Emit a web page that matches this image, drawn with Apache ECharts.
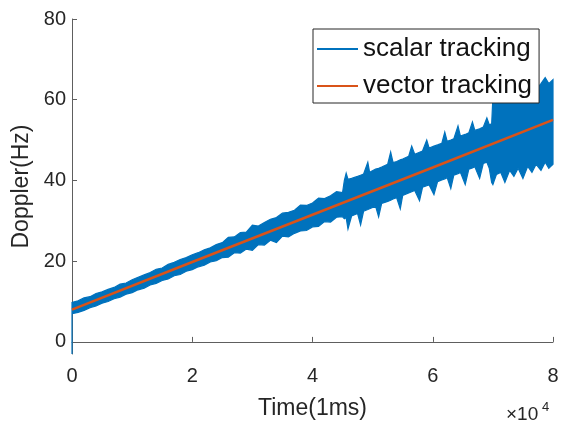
<!DOCTYPE html>
<html>
<head>
<meta charset="utf-8">
<script src="https://cdn.jsdelivr.net/npm/echarts@6/dist/echarts.min.js"></script>
<style>
html,body{margin:0;padding:0;background:#fff;}
#chart{width:562px;height:425px;}
</style>
</head>
<body>
<div id="chart"></div>
<script>
// ---- data (envelope of the noisy scalar-tracking trace) ----
const scalarTime = [0, 0, 1000, 2000, 3000, 4000, 5000, 6000, 7000, 8000, 9000, 10000,
  11000, 12000, 13000, 14000, 15000, 16000, 17000, 18000, 19000, 20000,
  21000, 22000, 23000, 24000, 25000, 26000, 27000, 28000, 29000, 30000,
  31000, 32000, 33000, 34000, 35000, 36000, 37000, 38000, 39000, 40000,
  41000, 42000, 43000, 44000, 45000,
  45300, 45600, 45900, 46500, 47500, 48000, 48500, 49200, 49500, 50500,
  51000, 51500, 52500, 53000, 53400, 54000, 54600, 55000, 56000, 56500,
  57000, 57800, 58300, 59000, 59400, 60200, 60800, 61500, 62000, 62400,
  63000, 63500, 64200, 64600, 65400, 66000, 66600, 67000, 67800, 68400,
  69000, 69400, 69800,
  70000, 70600, 71300, 72000, 72800, 73500, 74200, 75000, 75800, 76500,
  77200, 78000, 78700, 79300, 80000];
const scalarUpper = [9.6, 9.8, 10.2, 10.9, 11.2, 12.0, 12.4, 13.0, 13.5, 14.3, 14.6, 15.4,
  16.0, 16.6, 17.2, 18.0, 18.3, 19.2, 19.7, 20.4, 20.9, 21.6,
  22.1, 22.8, 23.3, 24.1, 24.6, 25.9, 26.0, 27.1, 27.2, 28.9,
  28.7, 29.6, 30.4, 30.8, 31.9, 32.1, 32.6, 33.9, 33.8, 34.4,
  35.6, 35.5, 36.2, 37.2, 37.0,
  40.0, 41.8, 40.3, 40.5, 41.0, 41.3, 41.6, 44.5, 42.0, 42.8,
  43.0, 43.3, 44.0, 47.0, 44.4, 44.7, 45.1, 45.3, 46.0, 48.5,
  46.5, 47.0, 47.3, 50.0, 48.0, 48.5, 48.8, 49.2, 52.0, 49.7,
  50.0, 50.3, 53.5, 51.0, 51.4, 51.8, 54.5, 52.4, 52.8, 53.2,
  55.5, 53.8, 54.0,
  60.5, 60.8, 62.5, 61.0, 61.5, 63.0, 61.5, 62.0, 63.5, 62.0,
  62.5, 64.0, 65.5, 64.0, 65.0];
const scalarLower = [-3, 7.0, 7.3, 7.8, 8.5, 8.9, 9.6, 10.0, 10.7, 11.1, 11.8, 12.2,
  12.9, 13.3, 14.1, 14.5, 15.2, 15.6, 16.4, 16.7, 17.5, 17.9,
  18.6, 19.0, 19.8, 20.1, 20.9, 21.0, 22.1, 22.0, 23.0, 22.7,
  24.1, 24.0, 25.2, 24.6, 26.2, 26.0, 26.9, 27.5, 27.6, 28.5,
  28.6, 29.8, 29.7, 30.9, 31.0,
  30.5, 30.8, 28.0, 31.2, 31.8, 29.0, 32.4, 32.8, 33.0, 33.6,
  31.0, 34.3, 34.8, 35.1, 35.4, 35.7, 33.0, 36.3, 36.9, 37.2,
  37.5, 35.0, 38.3, 38.7, 38.9, 36.5, 39.7, 40.1, 40.4, 40.7,
  38.0, 41.3, 41.7, 42.0, 39.0, 42.8, 43.1, 43.4, 40.5, 44.2,
  44.5, 43.0, 39.5,
  39.0, 41.5, 42.0, 39.5, 42.5, 41.0, 43.0, 40.5, 43.5, 42.0,
  44.0, 42.5, 44.5, 43.0, 44.0];
const vectorTime = [0, 20000, 40000, 60000, 80000];
const vectorValue = [8.0, 19.8, 31.5, 43.2, 55.0];
const xTickValues = [0, 20000, 40000, 60000, 80000];
const xTickLabels = ['0', '2', '4', '6', '8'];
const yTickValues = [0, 20, 40, 60, 80];

// ---- build series tables ----
const bandData = scalarTime.map((t, i) => [t, scalarLower[i], scalarUpper[i]]);
const vectorData = vectorTime.map((t, i) => [t, vectorValue[i]]);

const BLUE = '#0072BD', RED = '#D95319', TXT = '#262626', AX = '#5e5e5e';
const FONT = '"Liberation Sans", Arial, Helvetica, sans-serif';

function renderBand(params, api) {
  if (params.dataIndex !== 0) return null;
  const pts = [];
  for (let i = 0; i < bandData.length; i++) pts.push(api.coord([bandData[i][0], bandData[i][2]]));
  for (let i = bandData.length - 1; i >= 0; i--) pts.push(api.coord([bandData[i][0], bandData[i][1]]));
  return {
    type: 'polygon',
    shape: {points: pts},
    style: {fill: BLUE, stroke: BLUE, lineWidth: 1.2, lineJoin: 'miter'}
  };
}

const chart = echarts.init(document.getElementById('chart'), null, {renderer: 'canvas'});
chart.setOption({
  animation: false,
  backgroundColor: '#ffffff',
  grid: {left: 72, right: 9, top: 19, bottom: 66, containLabel: false},
  xAxis: {
    type: 'value', min: 0, max: 80000,
    name: 'Time(1ms)', nameLocation: 'middle', nameGap: 43,
    nameTextStyle: {fontFamily: FONT, fontSize: 23, color: TXT},
    axisLine: {show: true, lineStyle: {color: AX, width: 1}},
    axisTick: {show: true, inside: true, length: 5, customValues: xTickValues, lineStyle: {color: AX}},
    axisLabel: {customValues: xTickValues, margin: 12, fontFamily: FONT, fontSize: 20, color: TXT,
      formatter: v => xTickLabels[xTickValues.indexOf(v)]},
    splitLine: {show: false}
  },
  yAxis: {
    type: 'value', min: -3, max: 80,
    name: 'Doppler(Hz)', nameLocation: 'middle', nameGap: 33,
    nameTextStyle: {fontFamily: FONT, fontSize: 23, color: TXT},
    axisLine: {show: true, lineStyle: {color: AX, width: 1}},
    axisTick: {show: true, inside: true, length: 5, customValues: yTickValues, lineStyle: {color: AX}},
    axisLabel: {customValues: yTickValues, margin: 6, fontFamily: FONT, fontSize: 20, color: TXT},
    splitLine: {show: false}
  },
  legend: {
    orient: 'vertical', left: 313, top: 29,
    padding: [7, 7, 4, 4], itemGap: 11,
    backgroundColor: '#ffffff', borderColor: '#262626', borderWidth: 1,
    icon: 'rect', itemWidth: 41, itemHeight: 2,
    textStyle: {fontFamily: FONT, fontSize: 26, color: '#111111'},
    data: [
      {name: 'scalar tracking', itemStyle: {color: BLUE}},
      {name: 'vector tracking', itemStyle: {color: RED}}
    ]
  },
  series: [
    {
      name: 'scalar tracking', type: 'custom', renderItem: renderBand,
      data: bandData, encode: {x: 0, y: [1, 2]}, itemStyle: {color: BLUE}, z: 2
    },
    {
      name: 'vector tracking', type: 'line', data: vectorData,
      symbol: 'none', lineStyle: {color: RED, width: 2.5}, itemStyle: {color: RED}, z: 3
    }
  ],
  graphic: [
    {type: 'text', left: 506, top: 405, style: {text: '×10', fontFamily: FONT, fontSize: 19, fill: TXT}},
    {type: 'text', left: 542, top: 401, style: {text: '4', fontFamily: FONT, fontSize: 13, fill: TXT}}
  ]
});
</script>
</body>
</html>
